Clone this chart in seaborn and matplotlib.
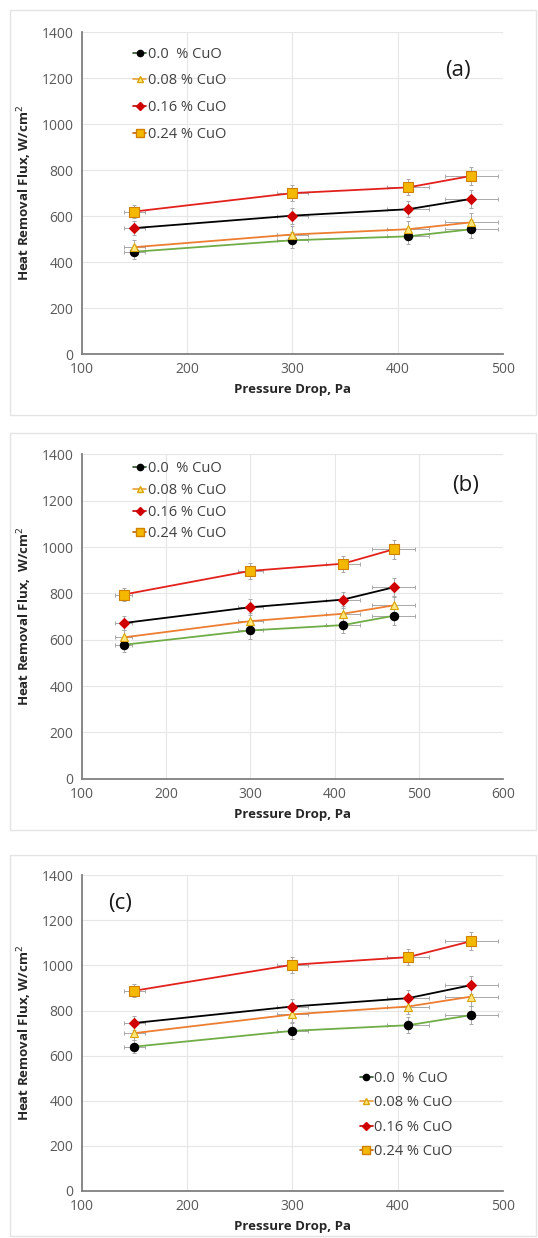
import pandas as pd
import numpy as np
import seaborn as sns
import matplotlib.pyplot as plt
from matplotlib.lines import Line2D
from matplotlib.patches import Rectangle

# pressure drop, Pa
pressure = [150, 300, 410, 470]
x_err = [10, 15, 20, 25]
series = ["0.0  % CuO", "0.08 % CuO", "0.16 % CuO", "0.24 % CuO"]

# heat removal flux, W/cm2, per panel
a_vals = {
    "0.0  % CuO": [445, 495, 512, 543],
    "0.08 % CuO": [465, 520, 543, 573],
    "0.16 % CuO": [548, 602, 630, 675],
    "0.24 % CuO": [620, 700, 725, 775],
}
b_vals = {
    "0.0  % CuO": [578, 640, 663, 703],
    "0.08 % CuO": [610, 680, 712, 748],
    "0.16 % CuO": [672, 740, 773, 826],
    "0.24 % CuO": [795, 897, 928, 990],
}
c_vals = {
    "0.0  % CuO": [640, 710, 735, 780],
    "0.08 % CuO": [700, 783, 818, 862],
    "0.16 % CuO": [745, 818, 855, 913],
    "0.24 % CuO": [888, 1003, 1037, 1108],
}
y_err = [30, 35, 35, 40]

# Excel style: line colours do not match the markers
line_col = {"0.0  % CuO": "#70ad47", "0.08 % CuO": "#ed7d31",
            "0.16 % CuO": "#000000", "0.24 % CuO": "#e3211c"}
mk = {"0.0  % CuO": ("o", "black", "black", 6),
      "0.08 % CuO": ("^", "#ffe680", "#d9a400", 6),
      "0.16 % CuO": ("D", "#d00000", "#d00000", 5),
      "0.24 % CuO": ("s", "#f5b800", "#d08000", 7)}
leg_line = {"0.0  % CuO": "#2f4f2f", "0.08 % CuO": "#e8a040",
            "0.16 % CuO": "#c00000", "0.24 % CuO": "#c06000"}

sns.set_style("white")
plt.rcParams["font.family"] = ["Open Sans", "DejaVu Sans"]

fig = plt.figure(figsize=(5.38, 12.38), dpi=100)

panels = [
    (a_vals, [0.152, 0.714, 0.783, 0.260], "(a)", (0.893, 0.88), "Heat Removal Flux, W/cm$^2$",
     dict(loc="upper left", bbox_to_anchor=(0.122, 0.955), labelspacing=0.8)),
    (b_vals, [0.152, 0.371, 0.783, 0.262], "(b)", (0.91, 0.905), "Heat Removal Flux,  W/cm$^2$",
     dict(loc="upper left", bbox_to_anchor=(0.122, 0.978), labelspacing=0.45)),
    (c_vals, [0.152, 0.038, 0.783, 0.255], "(c)", (0.09, 0.91), "Heat Removal Flux, W/cm$^2$",
     dict(loc="lower left", bbox_to_anchor=(0.66, 0.1), labelspacing=0.65)),
]
xmax_list = [500, 600, 500]

# light frames around each chart area
for (y0, y1) in [(10, 415), (433, 830), (855, 1236)]:
    fig.patches.append(Rectangle((10 / 538, 1 - y1 / 1238), 526 / 538, (y1 - y0) / 1238,
                                 transform=fig.transFigure, fill=False,
                                 edgecolor="#e4e4e4", linewidth=1))

for i, (vals, pos, tag, tagpos, ylab, legkw) in enumerate(panels):
    ax = fig.add_axes(pos)
    rows = []
    for s in series:
        for p, v in zip(pressure, vals[s]):
            rows.append({"Pressure": p, "Flux": v, "Series": s})
    df = pd.DataFrame(rows)

    for s in series:
        d = df[df["Series"] == s]
        ax.errorbar(d["Pressure"], d["Flux"], xerr=x_err, yerr=y_err, fmt="none",
                    ecolor="#a8a8a8", elinewidth=0.7, capsize=1.5, capthick=0.7, zorder=2)
    sns.lineplot(data=df, x="Pressure", y="Flux", hue="Series", palette=line_col,
                 linewidth=1.3, ax=ax, legend=False, zorder=3)
    for s in series:
        d = df[df["Series"] == s]
        m, fc, ec, ms = mk[s]
        ax.plot(d["Pressure"], d["Flux"], linestyle="none", marker=m, markersize=ms,
                markerfacecolor=fc, markeredgecolor=ec, markeredgewidth=0.8, zorder=4)

    xmax = xmax_list[i]
    ax.set_xlim(100, xmax)
    ax.set_ylim(0, 1400)
    ax.set_xticks(np.arange(100, xmax + 1, 100))
    ax.set_yticks(np.arange(0, 1401, 200))
    ax.grid(True, color="#e6e6e6", linewidth=0.8)
    ax.set_axisbelow(True)
    for sp in ["top", "right"]:
        ax.spines[sp].set_visible(False)
    for sp in ["left", "bottom"]:
        ax.spines[sp].set_color("#808080")
        ax.spines[sp].set_linewidth(1.3)
    ax.tick_params(axis="both", labelsize=10, colors="#595959", length=0, pad=6)
    ax.set_xlabel("Pressure Drop, Pa", fontsize=9.5, fontweight="bold", color="#262626", labelpad=4)
    ax.set_ylabel(ylab, fontsize=9.5, fontweight="bold", color="#262626", labelpad=5)
    ax.text(tagpos[0], tagpos[1], tag, transform=ax.transAxes, fontsize=16,
            ha="center", va="center", color="#1a1a1a")

    handles = []
    for s in series:
        m, fc, ec, ms = mk[s]
        handles.append(Line2D([0], [0], color=leg_line[s], linewidth=1.2, marker=m,
                              markersize=ms * 0.75, markerfacecolor=fc, markeredgecolor=ec))
    leg = ax.legend(handles, series, frameon=False, fontsize=10.5, handlelength=0.9,
                    handletextpad=0.1, borderaxespad=0, borderpad=0, **legkw)
    for t in leg.get_texts():
        t.set_color("#404040")

fig.savefig("out.png", dpi=100)
